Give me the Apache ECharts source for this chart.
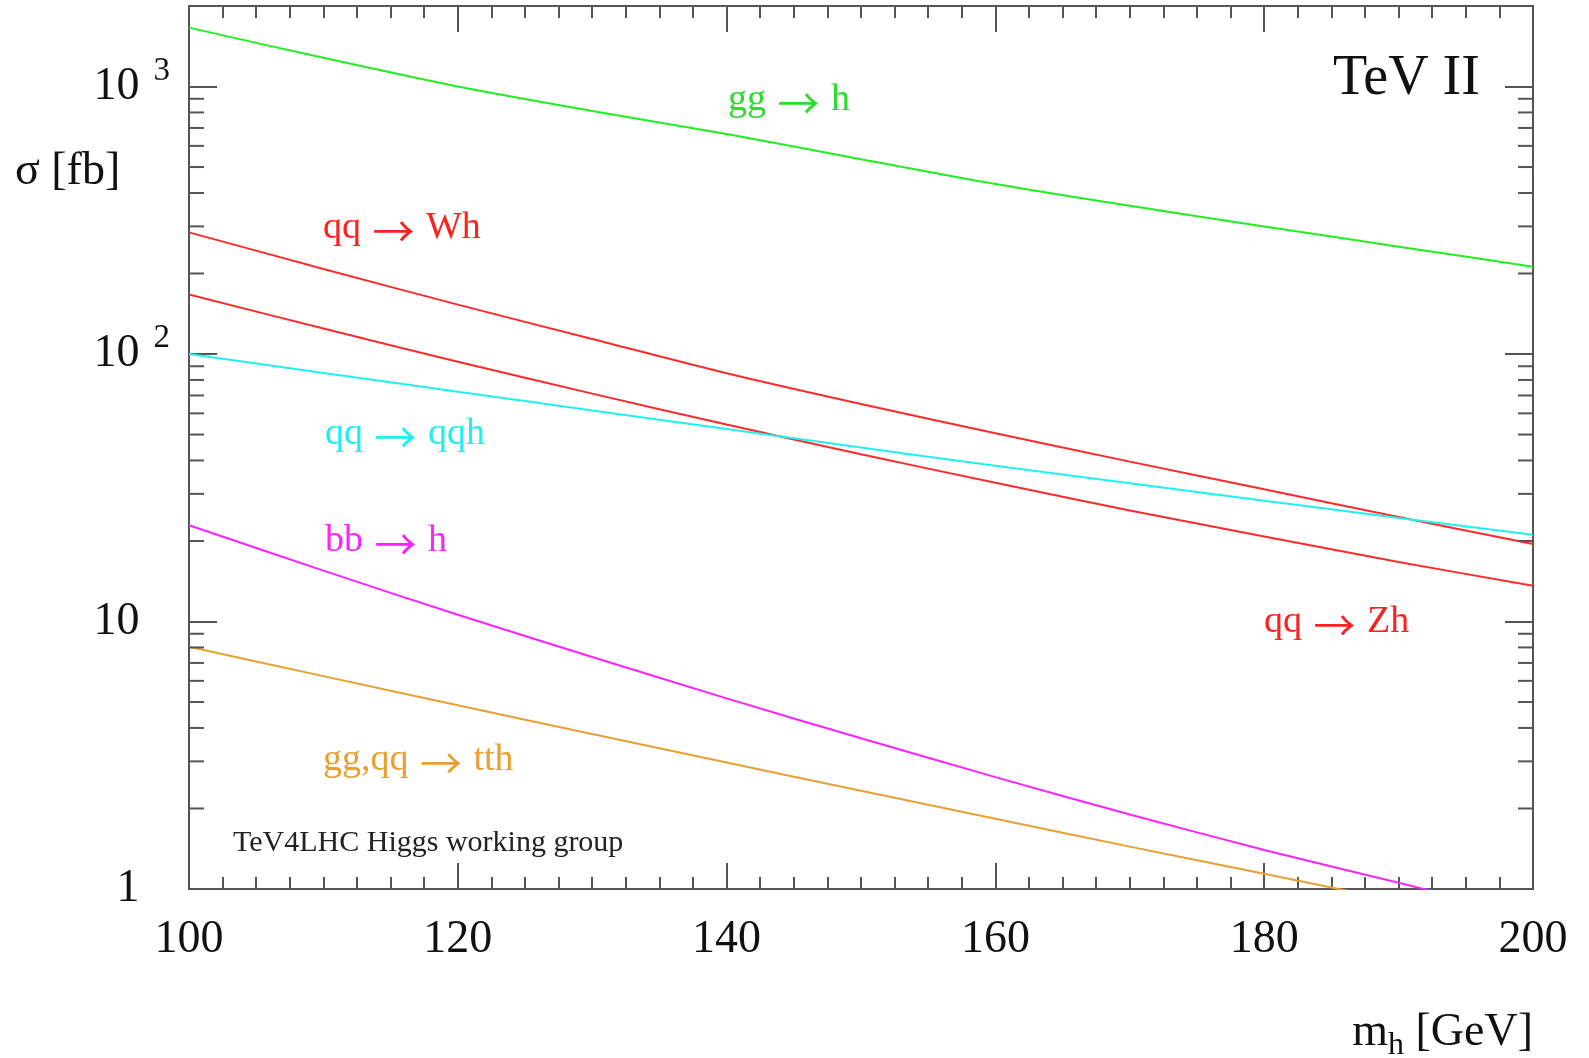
<!DOCTYPE html>
<html>
<head>
<meta charset="utf-8">
<script src="https://cdn.jsdelivr.net/npm/echarts@6/dist/echarts.min.js"></script>
<style>
html,body{margin:0;padding:0;background:#fff;}
#chart{width:1589px;height:1058px;}
</style>
</head>
<body>
<div id="chart"></div>
<script>
// Higgs mass [GeV]
const mh = [100, 110, 120, 130, 140, 150, 160, 170, 180, 190, 200];
// cross sections [fb]
const ggH   = [1660, 1280, 1000, 810, 665, 535, 432, 358, 300, 252, 212];
const qqWh  = [285, 208, 153, 113.8, 84.7, 65.0, 50.6, 39.6, 31.2, 24.6, 19.5];
const qqZh  = [167, 124.5, 93.6, 71.1, 54.5, 42.2, 33.0, 26.0, 20.8, 16.7, 13.6];
const qqqqh = [100, 85.0, 72.3, 61.5, 52.4, 44.7, 38.2, 32.9, 28.3, 24.4, 21.1];
const bbh   = [22.9, 15.5, 10.6, 7.37, 5.16, 3.66, 2.62, 1.90, 1.40, 1.055, 0.79];
const tth   = [8.04, 6.25, 4.86, 3.80, 2.97, 2.33, 1.83, 1.44, 1.14, 0.90, 0.72];
// y minor tick values
const yMinorTicks = [2,3,4,5,6,7,8,9,20,30,40,50,60,70,80,90,200,300,400,500,600,700,800,900];
const xTickLabels = ['100', '120', '140', '160', '180', '200'];

const FONT = 'Liberation Serif';
const ARROWFONT = 'Noto Sans CJK JP';
const AX = '#555';

function pairs(ys) { return mh.map((x, i) => [x, ys[i]]); }
function lineSeries(name, ys, color) {
  return {
    name, type: 'line', data: pairs(ys), showSymbol: false, smooth: 0.3,
    lineStyle: { color, width: 2 }, itemStyle: { color }, silent: true, z: 3
  };
}
function curveLabel(x, y, left, right, color) {
  return {
    type: 'text', silent: true,
    style: {
      x, y, text: '{t|' + left + ' }{a|→}{t| ' + right + '}',
      textAlign: 'left', textVerticalAlign: 'middle',
      rich: {
        t: { fontFamily: FONT, fontSize: 38, lineHeight: 38, fill: color },
        a: { fontFamily: ARROWFONT, fontSize: 42, lineHeight: 38, height: 32, verticalAlign: 'bottom', fill: color, padding: [0, 2, 0, 2] }
      }
    }
  };
}

const chart = echarts.init(document.getElementById('chart'));

const xCommon = {
  type: 'value', min: 100, max: 200, interval: 20,
  axisLine: { show: false },
  axisTick: { show: true, inside: true, length: 26, lineStyle: { color: AX, width: 2 } },
  minorTick: { show: true, splitNumber: 8, length: 12, lineStyle: { color: AX, width: 2 } },
  splitLine: { show: false }, minorSplitLine: { show: false }
};
const yCommon = {
  type: 'log', logBase: 10, min: 1, max: 2000,
  axisLine: { show: false },
  axisTick: { show: true, inside: true, length: 28, lineStyle: { color: AX, width: 2 } },
  splitLine: { show: false }
};

chart.setOption({
  animation: false,
  backgroundColor: '#fff',
  grid: { left: 189, right: 56, top: 6, bottom: 169, show: true, borderColor: AX, borderWidth: 2, backgroundColor: 'transparent' },
  xAxis: [
    Object.assign({}, xCommon, {
      position: 'bottom',
      axisLabel: {
        margin: 51, verticalAlign: 'middle', fontFamily: FONT, fontSize: 46, color: '#111',
        formatter: v => xTickLabels.indexOf(String(v)) >= 0 ? String(v) : ''
      }
    }),
    Object.assign({}, xCommon, { position: 'top', axisLabel: { show: false } })
  ],
  yAxis: [
    Object.assign({}, yCommon, {
      position: 'left',
      axisLabel: {
        margin: 19, fontFamily: FONT, color: '#111',
        formatter: function (v) {
          const e = Math.round(Math.log10(v));
          if (Math.abs(Math.pow(10, e) - v) > 1e-6 * v) return '';
          if (e === 0) return '{b|1}{h|3}';
          if (e === 1) return '{b|10}{h|3}';
          return '{b|10}{s|' + e + '}';
        },
        rich: {
          b: { fontFamily: FONT, fontSize: 46, lineHeight: 46, color: '#111' },
          s: { fontFamily: FONT, fontSize: 33, lineHeight: 10, height: 15, verticalAlign: 'top', color: '#111', padding: [0, 0, 0, 14] },
          h: { fontFamily: FONT, fontSize: 33, lineHeight: 10, height: 15, verticalAlign: 'top', color: 'transparent', padding: [0, 0, 0, 14] }
        }
      }
    }),
    Object.assign({}, yCommon, { position: 'right', axisLabel: { show: false } })
  ],
  series: [
    lineSeries('gg → h', ggH, '#22ee22'),
    lineSeries('qq → Wh', qqWh, '#ff2a2a'),
    lineSeries('qq → Zh', qqZh, '#ff2a2a'),
    lineSeries('qq → qqh', qqqqh, '#22f0f0'),
    lineSeries('bb → h', bbh, '#ff22ff'),
    lineSeries('gg,qq → tth', tth, '#e8a033'),
    {
      type: 'custom', silent: true, z: 4, clip: false,
      data: yMinorTicks.map(v => [100, v]),
      encode: { x: 0, y: 1 },
      renderItem: function (params, api) {
        const v = api.value(1);
        const l = api.coord([100, v]);
        const r = api.coord([200, v]);
        const st = { stroke: AX, lineWidth: 2 };
        return {
          type: 'group', children: [
            { type: 'line', shape: { x1: l[0], y1: l[1], x2: l[0] + 15, y2: l[1] }, style: st },
            { type: 'line', shape: { x1: r[0] - 15, y1: r[1], x2: r[0], y2: r[1] }, style: st }
          ]
        };
      }
    }
  ],
  graphic: [
    curveLabel(728, 100, 'gg', 'h', '#2ddd2d'),
    curveLabel(323, 228, 'qq', 'Wh', '#ff2020'),
    curveLabel(325, 434, 'qq', 'qqh', '#22eeee'),
    curveLabel(325, 541, 'bb', 'h', '#ff22ff'),
    curveLabel(1264, 622, 'qq', 'Zh', '#ff2020'),
    curveLabel(323, 760, 'gg,qq', 'tth', '#e8a033'),
    { type: 'text', silent: true, style: { x: 233, y: 843, text: 'TeV4LHC Higgs working group', fill: '#222', font: '30px "Liberation Serif"', textAlign: 'left', textVerticalAlign: 'middle' } },
    { type: 'text', silent: true, style: { x: 1333, y: 79, text: 'TeV II', fill: '#111', font: '56px "Liberation Serif"', textAlign: 'left', textVerticalAlign: 'middle' } },
    { type: 'text', silent: true, style: { x: 15, y: 172, text: 'σ [fb]', fill: '#111', font: '46px "Liberation Serif"', textAlign: 'left', textVerticalAlign: 'middle' } },
    { type: 'text', silent: true, style: {
        x: 1533, y: 1033, text: '{m|m}{h|h}{g| [GeV]}', textAlign: 'right', textVerticalAlign: 'middle',
        rich: {
          m: { fontFamily: FONT, fontSize: 46, lineHeight: 46, fill: '#111' },
          h: { fontFamily: FONT, fontSize: 32, lineHeight: 21, height: 21, verticalAlign: 'bottom', fill: '#111' },
          g: { fontFamily: FONT, fontSize: 46, lineHeight: 46, fill: '#111' }
        }
      } }
  ]
});
</script>
</body>
</html>
